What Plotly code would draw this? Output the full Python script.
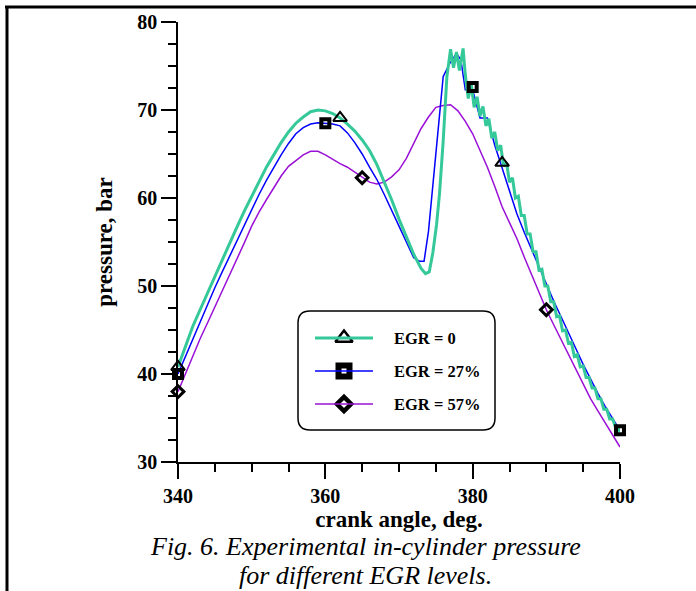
import plotly.graph_objects as go

# ---------------- data ----------------
egr0_angle = [340, 341, 342, 343, 344, 345, 346, 347, 348, 349, 350, 351, 352, 353, 354, 355, 356, 357, 358, 359,
              360, 361, 362, 363, 364, 365, 366, 367, 368, 369, 370, 371, 372, 373, 373.6, 374.1, 374.6, 375.1, 375.5,
              376.0, 376.5, 377.0, 377.4, 377.8, 378.2, 378.7, 379.0, 379.4, 379.8, 380.2, 380.6, 381.0, 381.4, 381.8,
              382.2, 382.6, 383.0, 383.4, 383.8, 384.2, 384.6, 385.0, 385.4, 385.8, 386.2, 386.6, 387.0, 387.4, 387.8,
              388.2, 388.6, 389.0, 389.4, 389.8, 390.2, 390.6, 391.0, 391.4, 391.8, 392.2, 392.6, 393.0, 393.4, 393.8,
              394.2, 394.6, 395.0, 395.4, 395.8, 396.2, 396.6, 397.0, 397.4, 397.8, 398.2, 398.6, 399.0, 399.4, 399.7, 400.0]
egr0_pressure = [40.8, 43.2, 45.4, 47.3, 49.2, 51.2, 53.1, 55.0, 56.7, 58.5, 60.2, 61.9, 63.5, 64.9, 66.3, 67.5, 68.5, 69.2, 69.8, 70.0,
                 69.9, 69.6, 69.1, 68.4, 67.6, 66.6, 65.4, 63.8, 61.9, 59.8, 57.6, 55.5, 53.6, 52.0, 51.4, 51.6, 53.8, 57.0, 60.5,
                 66.5, 73.8, 76.9, 74.8, 76.6, 74.5, 77.0, 74.0, 71.3, 73.0, 70.3, 71.5, 69.3, 70.4, 68.2,
                 69.0, 66.8, 67.5, 65.4, 66.0, 63.6, 64.0, 61.8, 62.3, 60.0, 60.2, 58.0, 58.0, 55.9, 55.9,
                 53.9, 53.9, 51.8, 51.9, 50.0, 50.0, 48.2, 48.2, 46.5, 46.6, 44.9, 45.0, 43.5, 43.6, 42.0,
                 42.2, 40.8, 40.9, 39.6, 39.6, 38.4, 38.4, 37.2, 37.2, 36.0, 36.0, 34.9, 34.9, 33.9, 33.9, 33.4]

egr27_angle = [340, 341, 342, 343, 344, 345, 346, 347, 348, 349, 350, 351, 352, 353, 354, 355, 356, 357, 358, 359,
               360, 361, 362, 363, 364, 365, 366, 367, 368, 369, 370, 371, 372, 372.8, 373.4, 374.0, 375.0, 376.0,
               376.9, 377.8, 378.4, 379.0, 380.0, 381.0, 382.0, 383.0, 384.0, 385.0, 386.0, 387.0, 388.0, 389.0,
               390.0, 391.0, 392.0, 393.0, 394.0, 395.0, 396.0, 397.0, 398.0, 399.0, 400.0]
egr27_pressure = [40.0, 42.0, 44.0, 46.0, 47.9, 49.8, 51.6, 53.4, 55.2, 57.0, 58.7, 60.4, 62.0, 63.5, 64.9, 66.2, 67.3, 68.0, 68.4, 68.55,
                  68.5, 68.4, 68.2, 67.4, 66.3, 65.0, 63.5, 62.1, 60.4, 58.5, 56.8, 55.0, 53.2, 52.8, 52.8, 56.2, 65.0, 73.8,
                  75.3, 76.4, 75.7, 72.3, 72.3, 69.1, 69.1, 66.0, 63.4, 60.7, 58.2, 56.1, 54.1, 52.1,
                  50.2, 48.3, 46.5, 44.6, 42.9, 41.1, 39.4, 37.8, 36.3, 34.9, 33.6]

egr57_angle = [340, 341, 342, 343, 344, 345, 346, 347, 348, 349, 350, 351, 352, 353, 354, 355, 356, 357, 358, 359,
               360, 361, 362, 363, 364, 365, 366, 367, 368, 369, 370, 371, 372, 373, 374, 375, 376, 377, 378, 379,
               380, 381, 382, 383, 384, 385, 386, 387, 388, 389, 390, 391, 392, 393, 394, 395, 396, 397, 398, 399, 400]
egr57_pressure = [38.0, 40.0, 42.1, 44.0, 45.8, 47.6, 49.3, 51.1, 52.9, 54.9, 56.8, 58.4, 59.8, 61.2, 62.5, 63.6, 64.3, 64.9, 65.3, 65.3,
                  64.9, 64.4, 63.9, 63.5, 62.9, 62.3, 61.8, 61.6, 61.8, 62.4, 63.2, 64.5, 66.2, 67.9, 69.2, 70.3, 70.5, 70.6, 69.9, 68.7,
                  67.3, 65.5, 63.5, 61.3, 59.0, 57.2, 55.4, 53.3, 51.3, 49.2, 47.3, 45.6, 43.9, 42.3, 40.6, 38.9, 37.2, 35.8, 34.4, 33.0, 31.7]

egr0_marker_angle = [340, 362, 384]
egr0_marker_pressure = [40.8, 69.1, 64.0]
egr27_marker_angle = [340, 360, 380, 400]
egr27_marker_pressure = [40.0, 68.5, 72.6, 33.6]
egr57_marker_angle = [340, 365, 390]
egr57_marker_pressure = [38.0, 62.3, 47.3]

series_names = ["EGR = 0", "EGR = 27%", "EGR = 57%"]
x_ticks = [340, 360, 380, 400]
y_ticks = [30, 40, 50, 60, 70, 80]
x_title = "crank angle, deg."
y_title = "pressure, bar"
caption_lines = ["Fig. 6. Experimental in-cylinder pressure", "for different EGR levels."]

# ---------------- style ----------------
W, H = 696, 591
PL, PR, PT, PB = 178, 620, 22, 462   # plot area in pixels
GREEN, BLUE, PURPLE = "#35C99A", "#0000FF", "#9B10D6"
SERIF = "Liberation Serif, Times New Roman, serif"


def fx(p):
    return (p - PL) / (PR - PL)


def fy(p):
    return (PB - p) / (PB - PT)


fig = go.Figure()

line_styles = [(egr57_angle, egr57_pressure, PURPLE, 1.5),
               (egr27_angle, egr27_pressure, BLUE, 1.5),
               (egr0_angle, egr0_pressure, GREEN, 3)]
for xs, ys, col, w in line_styles:
    fig.add_trace(go.Scatter(x=xs, y=ys, mode="lines", line=dict(color=col, width=w),
                             showlegend=False, hoverinfo="skip"))

marker_styles = [(egr0_marker_angle, egr0_marker_pressure, "triangle-up-open", 12, 2),
                 (egr27_marker_angle, egr27_marker_pressure, "square-open", 8, 4),
                 (egr57_marker_angle, egr57_marker_pressure, "diamond-open", 9, 3)]
for xs, ys, sym, sz, lw in marker_styles:
    fig.add_trace(go.Scatter(x=xs, y=ys, mode="markers",
                             marker=dict(symbol=sym, size=sz, color="black", line=dict(color="black", width=lw)),
                             showlegend=False, hoverinfo="skip", cliponaxis=False))

# ---------------- hand-drawn legend ----------------
LX0, LX1, LY0, LY1, R = 298, 495, 311, 430, 12
rx, ry = R / (PR - PL), R / (PB - PT)
x0, x1, y0, y1 = fx(LX0), fx(LX1), fy(LY1), fy(LY0)
path = (f"M{x0 + rx},{y1} L{x1 - rx},{y1} Q{x1},{y1} {x1},{y1 - ry} "
        f"L{x1},{y0 + ry} Q{x1},{y0} {x1 - rx},{y0} L{x0 + rx},{y0} "
        f"Q{x0},{y0} {x0},{y0 + ry} L{x0},{y1 - ry} Q{x0},{y1} {x0 + rx},{y1} Z")
shapes = [dict(type="path", path=path, xref="paper", yref="paper",
               line=dict(color="black", width=1.5), fillcolor="white", layer="below")]

leg_rows = [338, 371, 404]
leg_colors = [GREEN, BLUE, PURPLE]
leg_widths = [3, 1.5, 1.5]
for ry_, col, w in zip(leg_rows, leg_colors, leg_widths):
    shapes.append(dict(type="line", xref="paper", yref="paper", x0=fx(315), x1=fx(373),
                       y0=fy(ry_), y1=fy(ry_), line=dict(color=col, width=w), layer="above"))

leg_marker_specs = [("triangle-up-open", 15, 2.5, "rgba(0,0,0,0)"),
                    ("square", 11, 6, "white"),
                    ("diamond", 11, 4.5, "white")]
for ry_, (sym, sz, lw, fillc) in zip(leg_rows, leg_marker_specs):
    if sym.endswith("open"):
        mk = dict(symbol=sym, size=sz, color="black", line=dict(color="black", width=lw))
    else:
        mk = dict(symbol=sym, size=sz, color=fillc, line=dict(color="black", width=lw))
    fig.add_trace(go.Scatter(x=[fx(344)], y=[fy(ry_)], xaxis="x2", yaxis="y2", mode="markers",
                             marker=mk, showlegend=False, hoverinfo="skip"))

annotations = []
for ry_, name in zip(leg_rows, series_names):
    annotations.append(dict(text=f"<b>{name}</b>", xref="paper", yref="paper", x=fx(392), y=fy(ry_),
                            xanchor="left", yanchor="middle", showarrow=False,
                            font=dict(family=SERIF, size=16.5, color="black")))

# caption
for cy, line in zip([546, 575], caption_lines):
    annotations.append(dict(text=f"<i>{line}</i>", xref="paper", yref="paper", x=fx(365), y=fy(cy),
                            xanchor="center", yanchor="middle", showarrow=False,
                            font=dict(family=SERIF, size=26, color="black")))

# frame lines of the figure box
shapes.append(dict(type="line", xref="paper", yref="paper", x0=fx(5), x1=fx(696), y0=fy(7), y1=fy(7),
                   line=dict(color="black", width=3)))
shapes.append(dict(type="line", xref="paper", yref="paper", x0=fx(7), x1=fx(7), y0=fy(7), y1=fy(591),
                   line=dict(color="black", width=3)))

tickfont = dict(family=SERIF, size=20, color="black", weight="bold")
fig.update_layout(
    width=W, height=H,
    margin=dict(l=PL, r=W - PR, t=PT, b=H - PB),
    paper_bgcolor="white", plot_bgcolor="rgba(0,0,0,0)",
    showlegend=False,
    shapes=shapes, annotations=annotations,
    xaxis=dict(range=[340, 400], tickvals=x_ticks, ticks="outside", ticklen=15, tickwidth=1.5,
               tickcolor="black", showline=True, linecolor="black", linewidth=1.5,
               showgrid=False, zeroline=False, tickfont=tickfont,
               minor=dict(dtick=5, tick0=340, ticks="outside", ticklen=8, tickwidth=1.5, tickcolor="black"),
               title=dict(text=f"<b>{x_title}</b>", font=dict(family=SERIF, size=23, color="black"), standoff=5)),
    yaxis=dict(range=[30, 80], tickvals=y_ticks, ticks="outside", ticklen=15, tickwidth=1.5,
               tickcolor="black", showline=True, linecolor="black", linewidth=1.5,
               showgrid=False, zeroline=False, tickfont=tickfont,
               minor=dict(dtick=2.5, tick0=30, ticks="outside", ticklen=8, tickwidth=1.5, tickcolor="black"),
               title=dict(text=f"<b>{y_title}</b>", font=dict(family=SERIF, size=23, color="black"), standoff=18)),
    xaxis2=dict(overlaying="x", range=[0, 1], visible=False, fixedrange=True),
    yaxis2=dict(overlaying="y", range=[0, 1], visible=False, fixedrange=True),
)

fig.write_html("out.html")
